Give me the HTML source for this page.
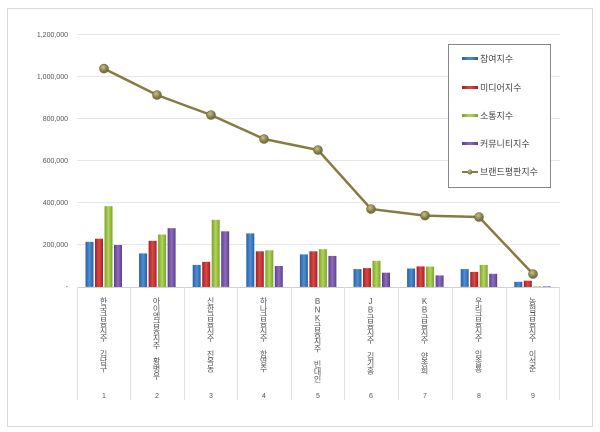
<!DOCTYPE html>
<html><head><meta charset="utf-8"><style>
body{margin:0;background:#fff;width:600px;height:432px;overflow:hidden;font-family:"Liberation Sans","Noto Sans CJK KR",sans-serif}
.v{position:absolute;writing-mode:vertical-rl;text-orientation:upright;font-size:8px;color:#555;letter-spacing:-0.6px;line-height:9px;white-space:nowrap}
</style></head><body>
<div style="position:absolute;left:7px;top:8px;width:584px;height:417px;border:1px solid #d9d9d9"></div>
<svg width="600" height="432" style="position:absolute;left:0;top:0" font-family="Liberation Sans, sans-serif">
<defs>
<linearGradient id="b" x1="0" x2="1"><stop offset="0" stop-color="#2a5f9e"/><stop offset=".5" stop-color="#4f8fd6"/><stop offset="1" stop-color="#2a5f9e"/></linearGradient>
<linearGradient id="r" x1="0" x2="1"><stop offset="0" stop-color="#a51f1f"/><stop offset=".5" stop-color="#d94a4a"/><stop offset="1" stop-color="#a51f1f"/></linearGradient>
<linearGradient id="g" x1="0" x2="1"><stop offset="0" stop-color="#7aa12a"/><stop offset=".5" stop-color="#b2d65a"/><stop offset="1" stop-color="#7aa12a"/></linearGradient>
<linearGradient id="p" x1="0" x2="1"><stop offset="0" stop-color="#5c3f8a"/><stop offset=".5" stop-color="#8e6cc0"/><stop offset="1" stop-color="#5c3f8a"/></linearGradient>
<radialGradient id="m" cx=".4" cy=".35"><stop offset="0" stop-color="#c9c08a"/><stop offset="1" stop-color="#7a7340"/></radialGradient>
</defs>
<g stroke="#e6e6e6" stroke-width="1">
<line x1="77" x2="560" y1="34.5" y2="34.5"/><line x1="77" x2="560" y1="76.5" y2="76.5"/><line x1="77" x2="560" y1="118.5" y2="118.5"/><line x1="77" x2="560" y1="160.5" y2="160.5"/><line x1="77" x2="560" y1="202.5" y2="202.5"/><line x1="77" x2="560" y1="244.5" y2="244.5"/>
</g>
<line x1="77" x2="560" y1="287.5" y2="287.5" stroke="#d0d0d0"/>
<g stroke="#e0e0e0">
<line x1="77.5" x2="77.5" y1="287" y2="400"/><line x1="130.5" x2="130.5" y1="287" y2="400"/><line x1="184.5" x2="184.5" y1="287" y2="400"/><line x1="237.5" x2="237.5" y1="287" y2="400"/><line x1="291.5" x2="291.5" y1="287" y2="400"/><line x1="344.5" x2="344.5" y1="287" y2="400"/><line x1="398.5" x2="398.5" y1="287" y2="400"/><line x1="452.5" x2="452.5" y1="287" y2="400"/><line x1="506.5" x2="506.5" y1="287" y2="400"/><line x1="559.5" x2="559.5" y1="287" y2="400"/>
</g>
<g font-size="7" fill="#555" text-anchor="end">
<text x="68" y="37">1,200,000</text><text x="68" y="79">1,000,000</text><text x="68" y="121">800,000</text><text x="68" y="163">600,000</text><text x="68" y="205">400,000</text><text x="68" y="247">200,000</text><text x="68" y="289">-</text>
</g>
<g font-size="7" fill="#555" text-anchor="middle">
<text x="104" y="398">1</text><text x="157" y="398">2</text><text x="211" y="398">3</text><text x="264" y="398">4</text><text x="318" y="398">5</text><text x="371" y="398">6</text><text x="425" y="398">7</text><text x="479" y="398">8</text><text x="533" y="398">9</text>
</g>
<g id="bars"></g>
<polyline fill="none" stroke="#857c44" stroke-width="2.5" points="104,68.6 157,95 211,115 264,139 318,150 371,209 425,215.6 479,217 533,274"/>
<g fill="url(#m)" stroke="#6b6538" stroke-width=".6">
<circle cx="104" cy="68.6" r="4.5"/><circle cx="157" cy="95" r="4.5"/><circle cx="211" cy="115" r="4.5"/><circle cx="264" cy="139" r="4.5"/><circle cx="318" cy="150" r="4.5"/><circle cx="371" cy="209" r="4.5"/><circle cx="425" cy="215.6" r="4.5"/><circle cx="479" cy="217" r="4.5"/><circle cx="533" cy="274" r="4.5"/>
</g>
<rect x="448.5" y="44.5" width="102" height="143" fill="#fff" stroke="#888"/>
<g font-size="9" fill="#444" font-family="Liberation Sans, Noto Sans CJK KR, sans-serif">
<rect x="462" y="57" width="16" height="3" fill="url(#b)"/><text x="480" y="62">참여지수</text>
<rect x="462" y="86" width="16" height="3" fill="url(#r)"/><text x="480" y="91">미디어지수</text>
<rect x="462" y="114" width="16" height="3" fill="url(#g)"/><text x="480" y="119">소통지수</text>
<rect x="462" y="142" width="16" height="3" fill="url(#p)"/><text x="480" y="147">커뮤니티지수</text>
<line x1="462" x2="478" y1="172" y2="172" stroke="#857c44" stroke-width="2"/><circle cx="470" cy="172" r="2.5" fill="url(#m)"/><text x="480" y="175">브랜드평판지수</text>
</g>
</svg>
<div class="v" style="left:99px;top:297px">한국금융지주 김남구</div>
<div class="v" style="left:152px;top:297px">아이엠금융지주 황병우</div>
<div class="v" style="left:206px;top:297px">신한금융지주 진옥동</div>
<div class="v" style="left:259px;top:297px">하나금융지주 함영주</div>
<div class="v" style="left:313px;top:297px">BNK금융지주 빈대인</div>
<div class="v" style="left:366px;top:297px">JB금융지주 김기홍</div>
<div class="v" style="left:420px;top:297px">KB금융지주 양종희</div>
<div class="v" style="left:474px;top:297px">우리금융지주 임종룡</div>
<div class="v" style="left:528px;top:297px">농협금융지주 이석준</div>
<script>
var d=[[215,230,385,200],[160,220,250,280],[105,120,320,265],[255,170,175,100],[155,170,180,148],[85,90,125,68],[88,98,97,55],[85,72,105,63],[25,30,3,3]];
var f=["url(#b)","url(#r)","url(#g)","url(#p)"],s="";
d.forEach(function(g,i){var c=104+i*53.6;g.forEach(function(v,j){var h=v*0.21;var x=c-18.5+j*9.5;s+='<rect x="'+x.toFixed(1)+'" y="'+(287-h).toFixed(1)+'" width="8" height="'+h.toFixed(1)+'" fill="'+f[j]+'"/>';});});
document.getElementById("bars").innerHTML=s;
</script>
</body></html>
